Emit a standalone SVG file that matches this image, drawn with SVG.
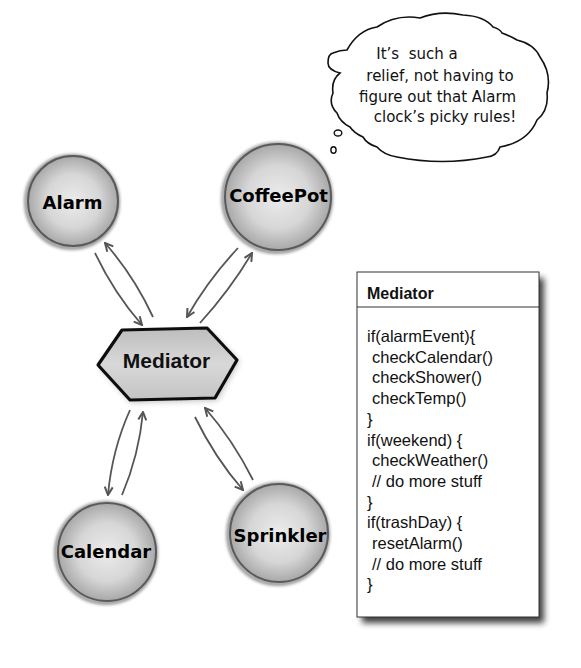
<svg xmlns="http://www.w3.org/2000/svg" width="581" height="668" viewBox="0 0 581 668">
<defs>
<radialGradient id="ball" cx="50%" cy="50%" r="50%">
<stop offset="0" stop-color="#ececec"/>
<stop offset="0.6" stop-color="#d6d6d6"/>
<stop offset="1" stop-color="#a8a8a8"/>
</radialGradient>
<linearGradient id="hexg" x1="0" y1="0" x2="0" y2="1">
<stop offset="0" stop-color="#bdbdbd"/>
<stop offset="0.5" stop-color="#d8d8d8"/>
<stop offset="1" stop-color="#c4c4c4"/>
</linearGradient>
<filter id="soft" x="-20%" y="-20%" width="140%" height="140%">
<feGaussianBlur stdDeviation="0.7"/>
</filter>
<filter id="halo" x="-20%" y="-20%" width="140%" height="140%">
<feGaussianBlur stdDeviation="1.5"/>
</filter>
<filter id="shadow" x="-10%" y="-10%" width="130%" height="130%">
<feGaussianBlur stdDeviation="3"/>
</filter>
<marker id="ah" viewBox="0 0 10 10" refX="9" refY="5" markerWidth="10" markerHeight="10" orient="auto" markerUnits="userSpaceOnUse">
<path d="M1,1 L9,5 L1,9" fill="none" stroke="#555" stroke-width="2" stroke-linejoin="miter"/>
</marker>
</defs>
<style>
.ball{fill:url(#ball);stroke:#5a5a5a;stroke-width:2}
.halo{fill:none;stroke:#999;stroke-width:4}
.nlabel{font-family:"DejaVu Sans",sans-serif;font-weight:bold;font-size:18px;fill:#000;text-anchor:middle}
.conn{fill:none;stroke:#555;stroke-width:1.8;marker-end:url(#ah)}
.code{font-family:"Liberation Sans",Arial,sans-serif;font-size:16.5px;fill:#111}
.think{font-family:"DejaVu Sans",sans-serif;font-size:15px;fill:#111;text-anchor:middle}
</style>

<g id="thought">
<path d="M347,50 Q358,30 377,27 Q396,14 420,18 Q440,10 463,15 Q484,16 493,27 Q500,29 502,33 Q510,36 517,40 Q534,44 540,57 Q552,74 547,93 Q549,110 537,120 Q528,142 500,147 Q497,156 487,157 Q442,166 397,157 Q384,155 377,147 Q367,144 363,137 Q354,133 350,127 Q340,122 337,113 Q328,104 333,93 Q331,80 340,73 Q328,70 328,63 Q328,54 333,53 Q340,50 347,50 Z" fill="#fff" stroke="#111" stroke-width="1.6"/>
<ellipse cx="338" cy="133" rx="3.8" ry="3" fill="#fff" stroke="#111" stroke-width="1.4"/>
<ellipse cx="333.5" cy="150" rx="2.6" ry="3.2" fill="#fff" stroke="#111" stroke-width="1.4"/>
<text class="think" x="417" y="59" xml:space="preserve">It’s  such a</text>
<text class="think" x="440" y="81">relief, not having to</text>
<text class="think" x="437.5" y="102">figure out that Alarm</text>
<text class="think" x="445" y="122">clock’s picky rules!</text>
</g>

<g id="alarm">
<circle class="halo" cx="72" cy="202" r="46" filter="url(#halo)"/>
<circle class="ball" cx="73" cy="201" r="45" filter="url(#soft)"/>
<text class="nlabel" x="72.5" y="209">Alarm</text>
</g>

<g id="coffeepot">
<circle class="halo" cx="277" cy="198" r="54" filter="url(#halo)"/>
<circle class="ball" cx="278" cy="197" r="53" filter="url(#soft)"/>
<text class="nlabel" x="278.5" y="202">CoffeePot</text>
</g>

<g id="calendar">
<circle class="halo" cx="106" cy="553" r="50" filter="url(#halo)"/>
<circle class="ball" cx="107" cy="552" r="49" filter="url(#soft)"/>
<text class="nlabel" x="106" y="558">Calendar</text>
</g>

<g id="sprinkler">
<circle class="halo" cx="278" cy="534" r="50" filter="url(#halo)"/>
<circle class="ball" cx="279" cy="533" r="49" filter="url(#soft)"/>
<text class="nlabel" x="280" y="542">Sprinkler</text>
</g>

<g id="mediator">
<polygon points="100,367 124,333 209,331 239,361 217,400 131,402" fill="#888" filter="url(#shadow)" opacity="0.6"/>
<polygon points="98,365 122,330 207,328 237,360 215,398 130,400" fill="url(#hexg)" stroke="#111" stroke-width="3.2" stroke-linejoin="round" filter="url(#soft)"/>
<text x="166.5" y="368" font-family="Liberation Sans, Arial, sans-serif" font-weight="bold" font-size="21" fill="#111" text-anchor="middle">Mediator</text>
</g>

<g id="connectors">
<path class="conn" d="M95,253 Q114,293 142,325"/>
<path class="conn" d="M153,317 Q134,276 105,243"/>
<path class="conn" d="M238,248 Q208,280 187,317"/>
<path class="conn" d="M200,323 Q230,290 252,253"/>
<path class="conn" d="M130,410 Q112,450 108,495"/>
<path class="conn" d="M122,495 Q139,455 143,412"/>
<path class="conn" d="M195,417 Q215,458 243,490"/>
<path class="conn" d="M253,480 Q233,440 205,408"/>
</g>

<g id="mediator-class">
<rect x="362" y="278" width="182" height="345" fill="#000" opacity="0.75" filter="url(#shadow)"/>
<rect x="357" y="272" width="182" height="345" fill="#fff" stroke="#333" stroke-width="1"/>
<line x1="357" y1="307" x2="539" y2="307" stroke="#333" stroke-width="1"/>
<text x="367" y="299" font-family="Liberation Sans, Arial, sans-serif" font-weight="bold" font-size="16" fill="#111">Mediator</text>
<text class="code" x="367" y="342">if(alarmEvent){</text>
<text class="code" x="372" y="362.7">checkCalendar()</text>
<text class="code" x="372" y="383.4">checkShower()</text>
<text class="code" x="372" y="404.1">checkTemp()</text>
<text class="code" x="367" y="424.8">}</text>
<text class="code" x="367" y="445.5">if(weekend) {</text>
<text class="code" x="372" y="466.2">checkWeather()</text>
<text class="code" x="372" y="486.9">// do more stuff</text>
<text class="code" x="367" y="507.6">}</text>
<text class="code" x="367" y="528.3">if(trashDay) {</text>
<text class="code" x="372" y="549">resetAlarm()</text>
<text class="code" x="372" y="569.7">// do more stuff</text>
<text class="code" x="367" y="590.4">}</text>
</g>
</svg>
